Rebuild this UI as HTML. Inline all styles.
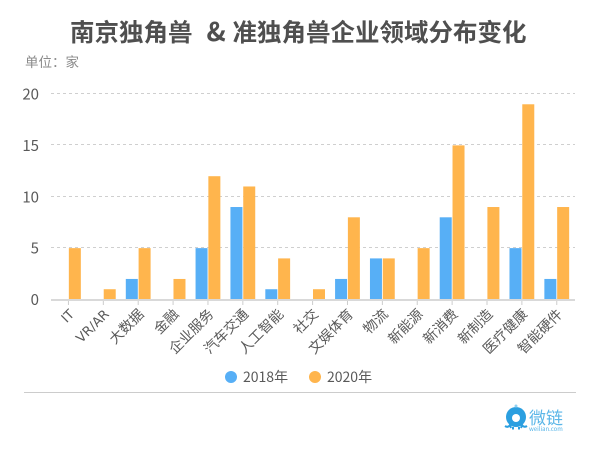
<!DOCTYPE html>
<html lang="zh">
<head>
<meta charset="utf-8">
<title>南京独角兽 & 准独角兽企业领域分布变化</title>
<style>
html,body{margin:0;padding:0;background:#fff;width:600px;height:450px;overflow:hidden}
svg{display:block}
text{font-family:"Noto Sans CJK SC","Liberation Sans",sans-serif}
</style>
</head>
<body>
<svg id="chart" width="600" height="450" viewBox="0 0 600 450">
<text y="41" font-size="24.5" font-weight="700" fill="#4f4f4f"><tspan x="70">南京独角兽</tspan><tspan x="206.5" font-size="26">&amp;</tspan><tspan x="232.5">准独角兽企业领域分布变化</tspan></text>
<text x="25" y="67" font-size="13.5" fill="#8a8a8a">单位：家</text>
<g id="grid"></g>
<g id="bars"></g>
<g id="axis"></g>
<g>
<circle cx="231" cy="377" r="6" fill="#57aff6"></circle>
<text x="243" y="382" font-size="14" fill="#595959">2018年</text>
<circle cx="315" cy="377" r="6" fill="#ffb54d"></circle>
<text x="327" y="382" font-size="14" fill="#595959">2020年</text>
</g>
<line x1="24" x2="576" y1="392.5" y2="392.5" stroke="#cccccc" stroke-width="1"></line>
<g>
<circle cx="516" cy="417" r="10" fill="#2b9fe0"></circle>
<circle cx="516" cy="418" r="4" fill="#fff"></circle>
<circle cx="516" cy="406" r="1.5" fill="#8fd0f2"></circle>
<path d="M505 426q3 2 5-1l1 3M527 426q-3 2-5-1l-1 3M513 427v2.5M519 427v2.5" fill="none" stroke="#2b9fe0" stroke-width="2"></path>
<text x="529" y="424" font-size="17" fill="#5ab6e8">微链</text>
<text x="529" y="431" font-size="6" fill="#5ab6e8">weilian.com</text>
</g>
</svg>
<script>
const categories = ["IT","VR/AR","大数据","金融","企业服务","汽车交通","人工智能","社交","文娱体育","物流","新能源","新消费","新制造","医疗健康","智能硬件"];
const values2018 = [0,0,2,0,5,9,1,0,2,4,0,8,0,5,2];
const values2020 = [5,1,5,2,12,11,4,1,8,4,5,15,9,19,9];
const yTicks = [0,5,10,15,20];

const NS = "http://www.w3.org/2000/svg";
const plotLeft = 51, plotRight = 575, plotTop = 94, plotBottom = 299.5, yMax = 20;
const bandWidth = 34.88;
const barWidth = 12;
function xCenter(i){ return plotLeft + bandWidth * (i + 0.5); }
function yPos(v){ return plotBottom - (v / yMax) * (plotBottom - plotTop); }
function make(tag, attrs, parent){
  const el = document.createElementNS(NS, tag);
  for (const k in attrs) el.setAttribute(k, attrs[k]);
  parent.appendChild(el);
  return el;
}
const gridG = document.getElementById("grid");
const barsG = document.getElementById("bars");
const axisG = document.getElementById("axis");

yTicks.forEach(function(t){
  const y = Math.round(yPos(t)) - 0.5;
  if (t !== 0) {
    const gl = make("line", {x1:plotLeft, x2:plotRight, y1:y, y2:y, stroke:"#cfcfcf", "stroke-width":1, "stroke-dasharray":"3 3"}, gridG);
    
    
  }
  const lb = make("text", {x:39, y:yPos(t) + 5.5, "text-anchor":"end", "font-size":15, fill:"#595959"}, axisG);
  lb.textContent = t;
  
  
});

categories.forEach(function(c, i){
  const cx = xCenter(i);
  if (values2018[i] > 0) {
    const b1 = make("rect", {x:cx - barWidth - 0.4, y:yPos(values2018[i]), width:barWidth, height:plotBottom - yPos(values2018[i]), fill:"#57aff6"}, barsG);
    
    
  }
  if (values2020[i] > 0) {
    const b2 = make("rect", {x:cx + 0.4, y:yPos(values2020[i]), width:barWidth, height:plotBottom - yPos(values2020[i]), fill:"#ffb54d"}, barsG);
    
    
  }
  const tick = make("line", {x1:cx, x2:cx, y1:299, y2:305, stroke:"#cccccc", "stroke-width":1}, axisG);
  
  
  const tx = cx + 6.5, ty = 315;
  const isLatin = /^[A-Za-z\/]+$/.test(c);
  const lab = make("text", {x:tx, y:ty, "text-anchor":"end", "font-size":isLatin ? 13 : 14, fill:"#595959", transform:"rotate(-45 " + tx + " " + ty + ")"}, axisG);
  if (isLatin) lab.style.fontFamily = '"DejaVu Sans", sans-serif';
  lab.textContent = c;
  
  
});

const axisLine = make("line", {x1:plotLeft, x2:plotRight, y1:300, y2:300, stroke:"#d9d9d9", "stroke-width":2}, axisG);


</script>
</body>
</html>
